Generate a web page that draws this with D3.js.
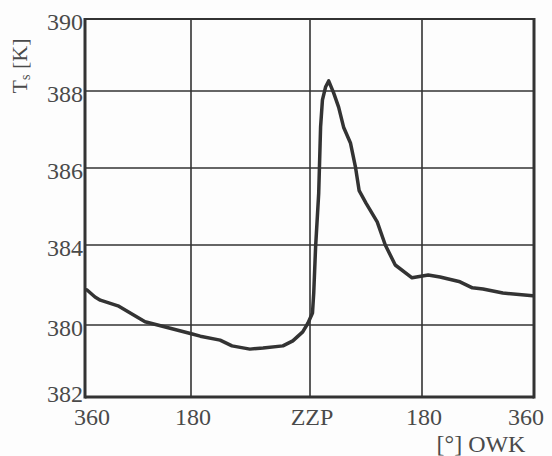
<!DOCTYPE html>
<meta charset="utf-8">
<script src="https://d3js.org/d3.v7.min.js"></script>
<div id="chart"></div>
<style>
	body {
		margin: 0;
		padding: 0;
		background-color: #fdfdfd;
		overflow: hidden;
	}
</style>
<script>
	// crank angle (deg, 0 = ZZP) and surface temperature Ts [K]
	const angle = [-357, -343, -334, -304, -258, -178, -166, -136, -118, -91, -71, -41, -26, -11, -3,
		4, 6, 9, 14, 17, 20, 25, 30, 38, 46, 54, 65, 73, 79, 90, 108, 121, 137, 164, 190, 209, 241, 261, 278, 310, 358];
	const temp = [382.88, 382.70, 382.62, 382.48, 382.08, 381.75, 381.69, 381.58, 381.42, 381.33, 381.36, 381.42, 381.56, 381.81, 382.05,
		382.30, 382.80, 383.95, 385.35, 387.06, 387.77, 388.11, 388.28, 387.95, 387.58, 387.06, 386.65, 386.03, 385.41, 385.09, 384.60, 384.0, 383.5, 383.18, 383.25, 383.20, 383.08, 382.93, 382.90, 382.80, 382.73];

	const xTicks = [-360, -180, 0, 180, 360];
	const xTickLabels = ["360", "180", "ZZP", "180", "360"];
	const yTicks = [380, 382, 384, 386, 388, 390];
	const yTickLabels = ["382", "380", "384", "386", "388", "390"];

	const W = 552, H = 456;
	const ink = "#333", txt = "#4a4a4a";

	const svg = d3.select("#chart").append("svg")
		.attr("width", W)
		.attr("height", H)
		.style("font-family", "'Liberation Serif', 'DejaVu Serif', serif");

	// the scan is a bit uneven, so the grid spacing follows it
	const x = d3.scaleLinear().domain(xTicks).range([85, 191, 310, 422, 534]);
	const y = d3.scaleLinear().domain(yTicks).range([397, 325, 245, 168, 91, 19]);

	// grid
	svg.append("g").selectAll("line")
		.data(xTicks.slice(1, -1))
		.join("line")
		.attr("x1", d => x(d)).attr("x2", d => x(d))
		.attr("y1", y(390)).attr("y2", y(380))
		.attr("stroke", ink).attr("stroke-width", 1.6);
	svg.append("g").selectAll("line")
		.data(yTicks.slice(1, -1))
		.join("line")
		.attr("x1", x(-360)).attr("x2", x(360))
		.attr("y1", d => y(d)).attr("y2", d => y(d))
		.attr("stroke", ink).attr("stroke-width", 1.6);

	// frame
	svg.append("line").attr("x1", x(-360)).attr("x2", x(360)).attr("y1", y(390)).attr("y2", y(390))
		.attr("stroke", ink).attr("stroke-width", 2.2);
	svg.append("line").attr("x1", x(-360)).attr("x2", x(360)).attr("y1", y(380)).attr("y2", y(380))
		.attr("stroke", ink).attr("stroke-width", 3);
	svg.append("line").attr("x1", x(-360)).attr("x2", x(-360)).attr("y1", y(390) - 1).attr("y2", y(380) + 1.5)
		.attr("stroke", ink).attr("stroke-width", 3);
	svg.append("line").attr("x1", x(360)).attr("x2", x(360)).attr("y1", y(390) - 1).attr("y2", y(380) + 1.5)
		.attr("stroke", ink).attr("stroke-width", 3);

	// curve
	const data = angle.map((a, i) => ({ a, t: temp[i] }));
	svg.append("path")
		.datum(data)
		.attr("fill", "none")
		.attr("stroke", ink)
		.attr("stroke-width", 3.5)
		.attr("stroke-linejoin", "round")
		.attr("stroke-linecap", "round")
		.attr("d", d3.line().x(d => x(d.a)).y(d => y(d.t)));

	// tick labels
	svg.append("g").selectAll("text")
		.data(yTicks)
		.join("text")
		.attr("x", 83)
		.attr("y", d => y(d) + (d === 380 ? 5 : 11))
		.attr("text-anchor", "end")
		.attr("font-size", 24)
		.attr("fill", txt)
		.text((d, i) => yTickLabels[i]);

	// keep the end labels inside the page, as in the original
	svg.append("g").selectAll("text")
		.data(xTicks)
		.join("text")
		.attr("x", d => Math.max(92, Math.min(526, x(d) + 2)))
		.attr("y", 425)
		.attr("text-anchor", "middle")
		.attr("font-size", 24)
		.attr("fill", txt)
		.text((d, i) => xTickLabels[i]);

	// axis titles
	const yt = svg.append("text")
		.attr("transform", "translate(27,66) rotate(-90)")
		.attr("text-anchor", "middle")
		.attr("font-size", 22)
		.attr("fill", txt);
	yt.append("tspan").text("T");
	yt.append("tspan").attr("font-size", 14).attr("dy", 3).text("s");
	yt.append("tspan").attr("dy", -3).text(" [K]");

	svg.append("text")
		.attr("x", 481)
		.attr("y", 452)
		.attr("text-anchor", "middle")
		.attr("font-size", 24)
		.attr("fill", txt)
		.text("[°] OWK");
</script>
